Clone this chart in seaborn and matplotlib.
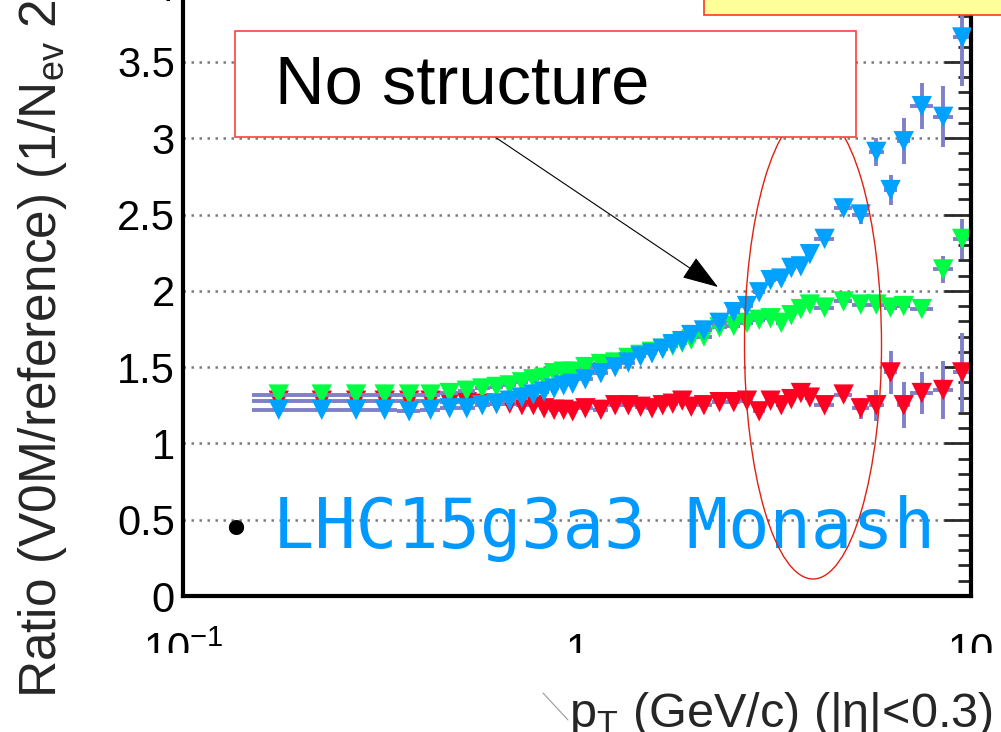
import numpy as np
import pandas as pd
import matplotlib
matplotlib.use('Agg')
import matplotlib.pyplot as plt
import seaborn as sns
from matplotlib.patches import Rectangle, Ellipse, FancyArrowPatch
from matplotlib.lines import Line2D
from matplotlib.ticker import FixedLocator, NullFormatter, LogLocator, MultipleLocator

# ---------------- data ----------------
pt_edges = [0.15, 0.2, 0.25, 0.3, 0.35, 0.4, 0.45, 0.5, 0.55, 0.6, 0.65, 0.7, 0.75,
            0.8, 0.85, 0.9, 0.95, 1.0, 1.1, 1.2, 1.3, 1.4, 1.5, 1.6, 1.7, 1.8, 1.9,
            2.0, 2.2, 2.4, 2.6, 2.8, 3.0, 3.2, 3.4, 3.6, 3.8, 4.0, 4.5, 5.0, 5.5,
            6.0, 6.5, 7.0, 8.0, 9.0, 10.0]

ratio_red = [1.28, 1.28, 1.28, 1.28, 1.28, 1.28, 1.27, 1.27, 1.26, 1.26, 1.26, 1.25,
             1.25, 1.23, 1.22, 1.22, 1.21, 1.23, 1.22, 1.25, 1.25, 1.24, 1.23, 1.25,
             1.26, 1.28, 1.24, 1.25, 1.27, 1.27, 1.28, 1.21, 1.28, 1.25, 1.29, 1.33,
             1.30, 1.25, 1.32, 1.23, 1.25, 1.465, 1.25, 1.33, 1.35, 1.465]
err_red = [0.004, 0.004, 0.004, 0.004, 0.004, 0.004, 0.004, 0.004, 0.004, 0.004, 0.004,
           0.004, 0.004, 0.004, 0.004, 0.004, 0.004, 0.006, 0.006, 0.006, 0.006, 0.006,
           0.006, 0.006, 0.006, 0.006, 0.006, 0.008, 0.008, 0.009, 0.01, 0.011, 0.012,
           0.013, 0.014, 0.015, 0.015, 0.02, 0.04, 0.07, 0.10, 0.14, 0.15, 0.14, 0.19, 0.26]

ratio_green = [1.32, 1.32, 1.32, 1.32, 1.32, 1.32, 1.33, 1.345, 1.36, 1.37, 1.38, 1.40,
               1.42, 1.43, 1.46, 1.47, 1.47, 1.50, 1.52, 1.53, 1.56, 1.58, 1.60, 1.62,
               1.64, 1.66, 1.68, 1.70, 1.76, 1.77, 1.79, 1.81, 1.82, 1.79, 1.84, 1.88,
               1.91, 1.89, 1.93, 1.91, 1.91, 1.89, 1.90, 1.88, 2.14, 2.34]
err_green = [0.004, 0.004, 0.004, 0.004, 0.004, 0.004, 0.004, 0.004, 0.004, 0.004, 0.004,
             0.004, 0.004, 0.004, 0.004, 0.004, 0.004, 0.005, 0.005, 0.005, 0.005, 0.005,
             0.005, 0.005, 0.005, 0.005, 0.005, 0.008, 0.008, 0.008, 0.009, 0.009, 0.01,
             0.01, 0.011, 0.011, 0.012, 0.012, 0.015, 0.02, 0.025, 0.03, 0.035, 0.04, 0.09, 0.13]

ratio_blue = [1.22, 1.22, 1.22, 1.22, 1.21, 1.22, 1.23, 1.23, 1.25, 1.26, 1.28, 1.30,
              1.32, 1.34, 1.36, 1.38, 1.39, 1.42, 1.46, 1.50, 1.53, 1.57, 1.59, 1.62,
              1.65, 1.67, 1.71, 1.74, 1.79, 1.86, 1.90, 1.99, 2.07, 2.08, 2.15, 2.16,
              2.24, 2.34, 2.54, 2.50, 2.91, 2.66, 2.98, 3.21, 3.14, 3.66]
err_blue = [0.005, 0.005, 0.005, 0.005, 0.005, 0.005, 0.005, 0.005, 0.005, 0.005, 0.005,
            0.005, 0.005, 0.005, 0.005, 0.005, 0.005, 0.006, 0.006, 0.006, 0.006, 0.006,
            0.006, 0.006, 0.006, 0.006, 0.006, 0.01, 0.01, 0.012, 0.012, 0.014, 0.015,
            0.016, 0.018, 0.02, 0.02, 0.025, 0.035, 0.06, 0.09, 0.10, 0.15, 0.15, 0.20, 0.32]

x_tick_values = [0.1, 1, 10]
x_tick_labels = [r'$\mathregular{10^{-1}}$', '1', '10']
x_label = r'$\mathregular{p_{T}}$ (GeV/c) (|η|<0.3)'
y_label = (r'Ratio (V0M/reference) (1/$\mathregular{N_{ev}}$ 2$\mathregular{\pi}$ '
           r'$\mathregular{p_{T}}$) $\mathregular{d^{2}N/dp_{T}d\eta}$')
note_text = 'No structure'
sample_text = 'LHC15g3a3 Monash'

# ---------------- style ----------------
sns.set_theme(style='white')
plt.rcParams['font.family'] = ['Liberation Sans', 'DejaVu Sans']
plt.rcParams['mathtext.fontset'] = 'custom'
plt.rcParams['mathtext.rm'] = 'Liberation Sans'
plt.rcParams['mathtext.it'] = 'Liberation Sans:italic'
plt.rcParams['mathtext.bf'] = 'Liberation Sans:bold'

W, H = 1001, 732
fig = plt.figure(figsize=(W / 100, H / 100), dpi=100)
fig.patch.set_facecolor('white')


def fx(px):
    return px / W


def fy(py):
    return 1 - py / H


ymax = 4.2
ax_left, ax_right, ax_bottom = 183, 971, 596
px_per_unit = 152.6
ax_h = px_per_unit * ymax
ax = fig.add_axes([fx(ax_left), (H - ax_bottom) / H, (ax_right - ax_left) / W, ax_h / H])
ax.set_facecolor('white')


def ax_x(px):
    return (px - ax_left) / (ax_right - ax_left)


def ax_y(py):
    return (ax_bottom - py) / ax_h


edges = np.array(pt_edges)
pt_center = 0.5 * (edges[:-1] + edges[1:])
pt_half = 0.5 * (edges[1:] - edges[:-1])

series = [
    ('red', ratio_red, err_red, '#ff0022'),
    ('green', ratio_green, err_green, '#00ff44'),
    ('blue', ratio_blue, err_blue, '#00a2ff'),
]

z = 2.0
for name, vals, errs, col in series:
    ax.errorbar(pt_center, vals, xerr=pt_half, yerr=errs, fmt='none',
                ecolor='#8080c8', elinewidth=2.8, capsize=0, zorder=z)
    df = pd.DataFrame({'pt': pt_center, 'ratio': vals})
    sns.scatterplot(data=df, x='pt', y='ratio', marker='v', s=215, color=col,
                    edgecolor='none', linewidth=0, ax=ax, zorder=z + 0.1, legend=False)
    z += 0.2

ax.set_xscale('log')
ax.set_xlim(0.1, 10)
ax.set_ylim(0, ymax)

ax.xaxis.set_major_locator(FixedLocator(x_tick_values))
ax.set_xticklabels(x_tick_labels)
ax.xaxis.set_minor_locator(LogLocator(base=10, subs=np.arange(2, 10)))
ax.xaxis.set_minor_formatter(NullFormatter())
ax.yaxis.set_minor_locator(MultipleLocator(0.1))
ax.set_yticks([0, 0.5, 1, 1.5, 2, 2.5, 3, 3.5, 4])
ax.set_yticklabels(['0', '0.5', '1', '1.5', '2', '2.5', '3', '3.5', '4'])

ax.tick_params(axis='both', which='both', direction='in', right=True, top=False,
               color='#2a2a2a', labelcolor='black', labelsize=30)
ax.tick_params(axis='y', which='major', length=19.5, width=2.0, pad=5.8)
ax.tick_params(axis='y', which='minor', length=9.5, width=2.0)
ax.tick_params(axis='x', which='major', length=10, width=2.0, pad=48)
ax.tick_params(axis='x', which='minor', length=5, width=1.5)
for lab in ax.get_xticklabels():
    lab.set_va('baseline')

for sp in ax.spines.values():
    sp.set_linewidth(3)
    sp.set_color('black')

ax.set_axisbelow(True)
ax.grid(axis='y', which='major', linestyle=(0, (1.0, 2.2)), color='#7a7a7a', linewidth=1.8)
ax.grid(axis='x', visible=False)

ax.set_xlabel(x_label, fontsize=35, ha='right', va='baseline')
ax.xaxis.set_label_coords(ax_x(993), ax_y(727))
ax.set_ylabel(y_label, fontsize=37, ha='left', va='baseline')
ax.yaxis.set_label_coords(ax_x(57), ax_y(698))

# white strip covering the lower part of the tick labels (as in the slide)
fig.add_artist(Rectangle((fx(100), fy(686)), (W - 100) / W, (686 - 653) / H,
                         transform=fig.transFigure, facecolor='white', edgecolor='none',
                         zorder=1))
fig.add_artist(Line2D([fx(543), fx(568)], [fy(693), fy(720)], transform=fig.transFigure,
                      color='#9a9a9a', lw=0.8, zorder=2))

# slide annotations
fig.text(fx(273), fy(548), sample_text, fontsize=49.5, family='DejaVu Sans Mono',
         color='#0099ff', ha='left', va='baseline', zorder=3)
fig.text(fx(236), fy(547), '•', fontsize=38, family='DejaVu Sans',
         color='black', ha='center', va='baseline', zorder=3)

fig.add_artist(Ellipse((fx(813), fy(345)), 137 / W, 468 / H, transform=fig.transFigure,
                       fill=False, edgecolor='#e02010', lw=1.0, zorder=4))

fig.add_artist(FancyArrowPatch((fx(495), fy(137)), (fx(718), fy(287)),
                               transform=fig.transFigure,
                               arrowstyle='-|>,head_length=23,head_width=7.8',
                               mutation_scale=1, color='black', lw=0.8,
                               shrinkA=0, shrinkB=0, zorder=4.5))

fig.add_artist(Rectangle((fx(235), fy(136.7)), (855.7 - 235) / W, (136.7 - 30.7) / H,
                         transform=fig.transFigure, facecolor='white',
                         edgecolor='#ff4040', lw=1.2, zorder=5))
fig.text(fx(275), fy(104), note_text, fontsize=49.5, color='black',
         ha='left', va='baseline', zorder=6)

fig.add_artist(Rectangle((fx(704), fy(15)), (W - 704 + 50) / W, 80 / H,
                         transform=fig.transFigure, facecolor='#ffff99',
                         edgecolor='#ff3a20', lw=1.2, zorder=5))

fig.savefig('out.png', dpi=100)
